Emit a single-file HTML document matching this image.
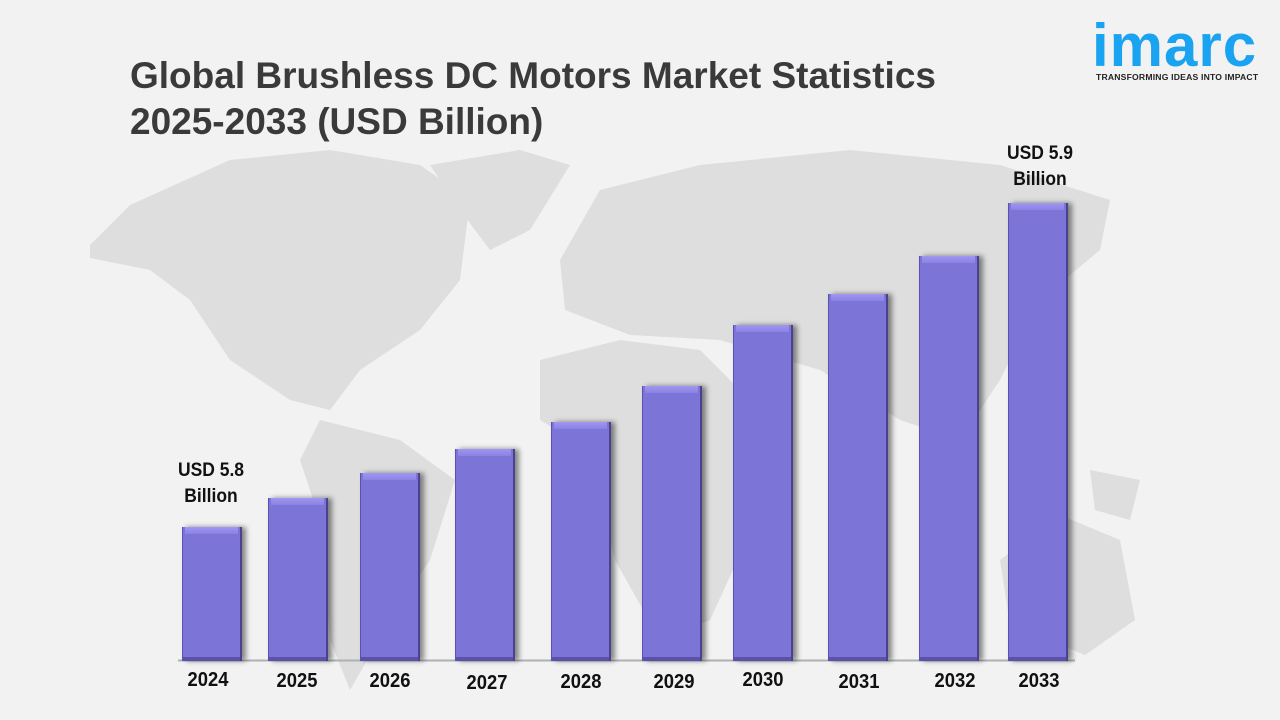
<!DOCTYPE html>
<html><head><meta charset="utf-8"><style>
body{margin:0;width:1280px;height:720px;background:#f2f2f2;overflow:hidden;font-family:"Liberation Sans",sans-serif;position:relative}
.t{position:absolute;left:130px;top:53px;font-size:37px;font-weight:bold;color:#3a3a3a;line-height:46px;white-space:nowrap}
.bar{position:absolute;width:60px;background:#7d74d8;box-shadow:4px 0 5px rgba(0,0,0,.45);border-left:1px solid #5b52b0;border-right:2px solid #4a428f;box-sizing:border-box}
.bar:before{content:"";position:absolute;left:2px;right:2px;top:0;height:7px;background:linear-gradient(#9f97f0,#8a81e4);}
.bar:after{content:"";position:absolute;left:0;right:0;bottom:0;height:4px;background:#5a52a8}
.y{position:absolute;font-size:20px;font-weight:bold;color:#111;width:80px;text-align:center;transform:scaleX(.92)}
.lab{position:absolute;font-size:19px;font-weight:bold;color:#111;text-align:center;line-height:26px;width:120px;transform:scaleX(.92)}
</style></head><body>
<svg width="1280" height="720" style="position:absolute;left:0;top:0">
<g fill="#dedede">
<polygon points="90,245 130,205 230,160 330,150 420,165 470,200 460,280 420,330 360,370 330,410 290,400 230,360 190,300 150,270 90,258"/>
<polygon points="430,165 520,150 570,165 530,230 490,250 460,210"/>
<polygon points="320,420 400,440 455,480 430,560 390,620 350,690 330,640 320,520 300,460"/>
<polygon points="560,260 600,190 700,165 850,150 1000,165 1110,200 1100,250 1040,300 1000,380 960,440 900,420 820,370 720,340 630,335 565,310"/>
<polygon points="540,360 620,340 700,350 770,420 765,500 710,620 660,640 615,560 590,450 540,420"/>
<polygon points="1000,560 1060,515 1120,540 1135,620 1085,655 1010,625"/>
<polygon points="1090,470 1140,480 1130,520 1095,510"/>
</g>
<line x1="178" y1="660.5" x2="1075" y2="660.5" stroke="#b0b0b0" stroke-width="2"/>
</svg>
<div class="t">Global Brushless DC Motors Market Statistics<br>2025-2033 (USD Billion)</div>
<div style="position:absolute;left:1092px;top:18px;font-size:60px;font-weight:bold;color:#1aa3f0;letter-spacing:1px;line-height:56px">imarc</div>
<div style="position:absolute;left:1096px;top:72px;font-size:8.6px;font-weight:bold;color:#222;letter-spacing:.2px">TRANSFORMING IDEAS INTO IMPACT</div>
<div class="bar" style="left:182px;top:527px;height:134px"></div>
<div class="bar" style="left:268px;top:498px;height:163px"></div>
<div class="bar" style="left:360px;top:473px;height:188px"></div>
<div class="bar" style="left:455px;top:449px;height:212px"></div>
<div class="bar" style="left:551px;top:422px;height:239px"></div>
<div class="bar" style="left:642px;top:386px;height:275px"></div>
<div class="bar" style="left:733px;top:325px;height:336px"></div>
<div class="bar" style="left:828px;top:294px;height:367px"></div>
<div class="bar" style="left:919px;top:256px;height:405px"></div>
<div class="bar" style="left:1008px;top:203px;height:458px"></div>
<div class="lab" style="left:151px;top:458px">USD 5.8<br>Billion</div>
<div class="lab" style="left:980px;top:141px">USD 5.9<br>Billion</div>
<div class="y" style="left:168px;top:669px">2024</div>
<div class="y" style="left:257px;top:670px">2025</div>
<div class="y" style="left:350px;top:670px">2026</div>
<div class="y" style="left:447px;top:672px">2027</div>
<div class="y" style="left:541px;top:671px">2028</div>
<div class="y" style="left:634px;top:671px">2029</div>
<div class="y" style="left:723px;top:669px">2030</div>
<div class="y" style="left:819px;top:671px">2031</div>
<div class="y" style="left:915px;top:670px">2032</div>
<div class="y" style="left:999px;top:670px">2033</div>
</body></html>
